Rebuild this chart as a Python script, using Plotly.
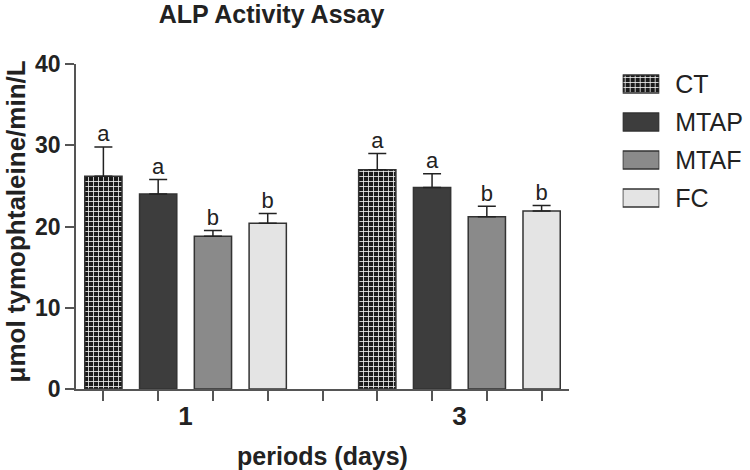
import plotly.graph_objects as go

# ---- data ----
periods = ["1", "3"]
series = ["CT", "MTAP", "MTAF", "FC"]
means = {
    "CT":   [26.2, 27.0],
    "MTAP": [24.0, 24.8],
    "MTAF": [18.8, 21.2],
    "FC":   [20.4, 21.9],
}
sds = {
    "CT":   [3.6, 2.0],
    "MTAP": [1.8, 1.7],
    "MTAF": [0.7, 1.3],
    "FC":   [1.2, 0.7],
}
letters = {
    "CT":   ["a", "a"],
    "MTAP": ["a", "a"],
    "MTAF": ["b", "b"],
    "FC":   ["b", "b"],
}
y_ticks = [0, 10, 20, 30, 40]
y_title = "μmol tymophtaleine/min/L"
x_title = "periods (days)"
chart_title = "ALP Activity Assay"

# ---- styles ----
fills = {"CT": "#262626", "MTAP": "#3d3d3d", "MTAF": "#8a8a8a", "FC": "#e4e4e4"}
patterns = {"CT": "+", "MTAP": "", "MTAF": "", "FC": ""}
FONT = "Liberation Sans, Arial, sans-serif"
AX = "#555555"
TXT = "#222222"


def pattern_for(s):
    if patterns[s]:
        return dict(shape=patterns[s], fgcolor="#f0f0f0", bgcolor="#1a1a1a",
                    size=5, solidity=0.3, fillmode="replace")
    return dict(shape="")


n_series = len(series)
slot = n_series + 1  # one empty position between groups

fig = go.Figure()
for i, s in enumerate(series):
    xs = [g * slot + i for g in range(len(periods))]
    fig.add_trace(go.Bar(
        x=xs, y=means[s], width=0.68, name=s, showlegend=False,
        marker=dict(color=fills[s], line=dict(color="#333333", width=1.5), pattern=pattern_for(s)),
        error_y=dict(type="data", array=sds[s], arrayminus=[0] * len(xs), symmetric=False,
                     color=TXT, thickness=1.5, width=9),
        xaxis="x", yaxis="y",
    ))
    fig.add_trace(go.Scatter(
        x=xs, y=[m + e for m, e in zip(means[s], sds[s])], mode="text",
        text=letters[s], textposition="top center",
        textfont=dict(family=FONT, size=22, color=TXT),
        showlegend=False, hoverinfo="skip", xaxis="x", yaxis="y",
    ))

# legend drawn as a small bar subplot
for s in series:
    fig.add_trace(go.Bar(
        x=[1], y=[s], orientation="h", showlegend=False, hoverinfo="skip",
        marker=dict(color=fills[s], line=dict(color="#333333", width=1.5), pattern=pattern_for(s)),
        xaxis="x2", yaxis="y2",
    ))

W, H = 750, 470
L, R, T, B = 76, 0, 64, 81
pw = W - L - R
ph = H - T - B

fig.update_layout(
    width=W, height=H,
    margin=dict(l=L, r=R, t=T, b=B, autoexpand=False),
    paper_bgcolor="white", plot_bgcolor="white",
    barmode="overlay", bargap=0.526,
    font=dict(family=FONT, color=TXT),
    title=dict(text=f"<b>{chart_title}</b>", x=271.5 / W, xanchor="center",
               y=1 - 14 / H, yanchor="middle", yref="container",
               font=dict(size=25, color=TXT)),
    xaxis=dict(
        domain=[0, 493 / pw], range=[-0.5, 2 * slot - 1.5],
        tickvals=[g * slot + (n_series - 1) / 2 for g in range(len(periods))],
        ticktext=[f"<b>{p}</b>" for p in periods],
        ticks="", tickfont=dict(size=26, color=TXT),
        minor=dict(tickmode="linear", tick0=0, dtick=1, ticks="outside",
                   ticklen=10, tickwidth=1.5, tickcolor=AX),
        ticklabelstandoff=3, automargin=False,
        showline=True, linecolor=AX, linewidth=1.5, showgrid=False, zeroline=False,
        title=dict(text=f"<b>{x_title}</b>", font=dict(size=25, color=TXT), standoff=20),
        fixedrange=True,
    ),
    yaxis=dict(
        range=[0, 40], tickvals=y_ticks, ticktext=[f"<b>{v}</b>" for v in y_ticks],
        ticks="outside", ticklen=9, tickwidth=1.5, tickcolor=AX,
        tickfont=dict(size=23, color=TXT), automargin=False,
        showline=True, linecolor=AX, linewidth=1.5, showgrid=False, zeroline=False,
    ),
    xaxis2=dict(domain=[546.7 / pw, 583.3 / pw], range=[0, 1], anchor="y2",
                visible=False, fixedrange=True, automargin=False),
    yaxis2=dict(domain=[172 / ph, 324 / ph], anchor="x2", side="right", automargin=False,
                categoryorder="array", categoryarray=series, autorange="reversed",
                showline=False, showgrid=False, zeroline=False, ticks="",
                ticklabelstandoff=15, tickfont=dict(size=25, color=TXT)),
    annotations=[dict(
        text=f"<b>{y_title}</b>", textangle=-90, showarrow=False,
        xref="paper", yref="paper", x=(15 - L) / pw, y=(H - B - 221.5) / ph,
        xanchor="center", yanchor="middle", font=dict(size=26, color=TXT),
    )],
)

# remove the default 8px page margin so the figure fills the window exactly
fig.write_html("out.html", config={"displayModeBar": False},
               post_script="document.body.style.margin='0';")
